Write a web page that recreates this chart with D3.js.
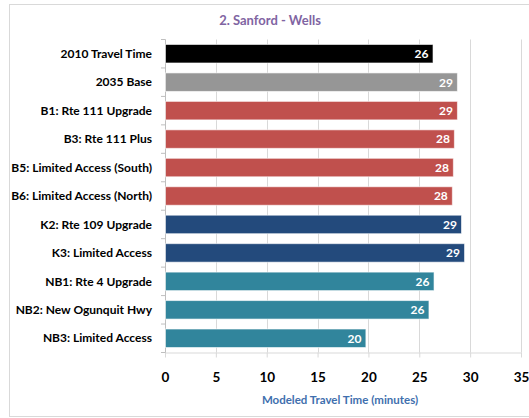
<!DOCTYPE html>
<html>
<head>
<meta charset="utf-8">
<script src="https://cdn.jsdelivr.net/npm/d3@7"></script>
<style>
  html, body { margin: 0; padding: 0; background: #fff; }
  svg { display: block; font-family: Lato, "Open Sans", "Liberation Sans", sans-serif; }
</style>
</head>
<body>
<svg id="chart" width="529" height="418"></svg>
<script>
// Scenario names, top to bottom
const categories = [
  "2010 Travel Time",
  "2035 Base",
  "B1: Rte 111 Upgrade",
  "B3: Rte 111 Plus",
  "B5: Limited Access (South)",
  "B6: Limited Access (North)",
  "K2: Rte 109 Upgrade",
  "K3: Limited Access",
  "NB1: Rte 4 Upgrade",
  "NB2: New Ogunquit Hwy",
  "NB3: Limited Access"
];
// Modeled travel time in minutes
const travelTimes = [26.3, 28.7, 28.7, 28.4, 28.3, 28.2, 29.1, 29.4, 26.4, 25.9, 19.7];
// Scenario family of each bar (drives colour)
const groups = ["2010", "base", "B", "B", "B", "B", "K", "K", "NB", "NB", "NB"];
const groupColors = { "2010": "#000000", base: "#969696", B: "#C0504D", K: "#234A7C", NB: "#31859C" };
const xTicks = [0, 5, 10, 15, 20, 25, 30, 35];

const title = "2. Sanford - Wells";
const xTitle = "Modeled Travel Time (minutes)";

const svg = d3.select("#chart");
const plot = { left: 165, right: 521, top: 39.5, bottom: 352.5 };

// Outer chart frame
svg.append("rect")
  .attr("x", 9.5).attr("y", 4.5)
  .attr("width", 540).attr("height", 412)
  .attr("fill", "#fff").attr("stroke", "#d9d9d9");

const x = d3.scaleLinear().domain([0, 35]).range([plot.left, plot.right]);
const y = d3.scaleBand().domain(categories).range([plot.top, plot.bottom]).paddingInner(0.35).paddingOuter(0.175);

// Vertical gridlines
svg.append("g")
  .selectAll("line")
  .data(xTicks.filter(t => t > 0))
  .join("line")
  .attr("x1", d => Math.round(x(d)) + 0.5).attr("x2", d => Math.round(x(d)) + 0.5)
  .attr("y1", plot.top).attr("y2", plot.bottom)
  .attr("stroke", "#d9d9d9").attr("stroke-width", 1);

// Bottom axis
const xAxis = svg.append("g")
  .attr("transform", `translate(0,${plot.bottom})`)
  .call(d3.axisBottom(x).tickValues(xTicks).tickSize(5).tickPadding(15).tickSizeOuter(0));
xAxis.select(".domain").attr("stroke", "#d9d9d9");
xAxis.selectAll(".tick line").attr("stroke", "#d9d9d9");
xAxis.selectAll(".tick text")
  .attr("fill", "#000").attr("font-size", 13.5).attr("font-weight", 700)
  .attr("font-family", "Lato, 'Open Sans', sans-serif");

// Left axis with ticks on category boundaries
const yAxisG = svg.append("g").attr("transform", `translate(${plot.left},0)`);
yAxisG.append("line")
  .attr("x1", 0.5).attr("x2", 0.5)
  .attr("y1", plot.top).attr("y2", plot.bottom)
  .attr("stroke", "#bfbfbf");
const step = y.step();
yAxisG.selectAll("line.bound")
  .data(d3.range(categories.length + 1))
  .join("line").attr("class", "bound")
  .attr("x1", -4).attr("x2", 0.5)
  .attr("y1", i => plot.top + i * step).attr("y2", i => plot.top + i * step)
  .attr("stroke", "#bfbfbf");

// Category labels
svg.append("g")
  .selectAll("text")
  .data(categories)
  .join("text")
  .attr("x", plot.left - 13)
  .attr("y", d => y(d) + y.bandwidth() / 2)
  .attr("dy", "0.35em")
  .attr("text-anchor", "end")
  .attr("font-size", 12).attr("font-weight", 700).attr("fill", "#000")
  .text(d => d);

// Bars
const rows = categories.map((c, i) => ({ c, v: travelTimes[i], g: groups[i] }));
svg.append("g")
  .selectAll("rect")
  .data(rows)
  .join("rect")
  .attr("x", x(0) + 0.5)
  .attr("y", d => y(d.c))
  .attr("width", d => x(d.v) - x(0))
  .attr("height", y.bandwidth())
  .attr("fill", d => groupColors[d.g])
  .attr("stroke", "rgba(255,255,255,0.6)").attr("stroke-width", 1);

// Value labels inside bar ends
const fmt = d3.format(".0f");
svg.append("g")
  .selectAll("text")
  .data(rows)
  .join("text")
  .attr("x", d => x(d.v) - 4)
  .attr("y", d => y(d.c) + y.bandwidth() / 2)
  .attr("dy", "0.36em")
  .attr("text-anchor", "end")
  .attr("font-size", 12).attr("font-weight", 700).attr("fill", "#fff")
  .text(d => fmt(d.v));

// Titles
svg.append("text")
  .attr("x", 270).attr("y", 20).attr("dy", "0.35em")
  .attr("text-anchor", "middle")
  .attr("font-size", 13).attr("font-weight", 700).attr("fill", "#8064A2")
  .text(title);

svg.append("text")
  .attr("x", 340).attr("y", 400).attr("dy", "0.35em")
  .attr("text-anchor", "middle")
  .attr("font-size", 11.5).attr("font-weight", 700).attr("fill", "#3F6FAE")
  .text(xTitle);
</script>
</body>
</html>
